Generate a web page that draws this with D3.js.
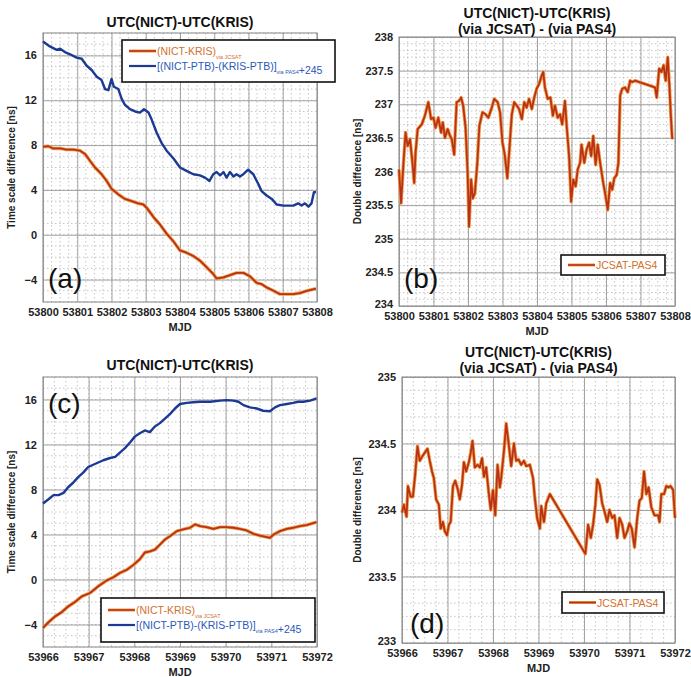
<!DOCTYPE html>
<html>
<head>
<meta charset="utf-8">
<script src="https://cdn.jsdelivr.net/npm/d3@7"></script>
<style>
  body { margin: 0; background: #fff; }
  svg { font-family: "Liberation Sans", Arial, sans-serif; }
</style>
</head>
<body>
<svg id="chart" width="691" height="677"></svg>
<script>
// Data (MJD, value)

// (a) MJD 53800-53808
const aNictKris = [
  [53800.00, 7.85], [53800.16, 7.9], [53800.30, 7.7], [53800.50, 7.7], [53800.69, 7.6],
  [53800.89, 7.6], [53801.08, 7.5], [53801.23, 7.2], [53801.37, 6.6], [53801.52, 6.0],
  [53801.71, 5.4], [53801.86, 4.8], [53802.00, 4.1], [53802.20, 3.6], [53802.39, 3.2],
  [53802.59, 3.0], [53802.78, 2.8], [53802.93, 2.7], [53803.03, 2.4], [53803.22, 1.6],
  [53803.42, 0.9], [53803.61, 0.1], [53803.81, -0.6], [53804.00, -1.4], [53804.19, -1.6],
  [53804.39, -1.9], [53804.58, -2.3], [53804.78, -2.9], [53804.97, -3.5], [53805.07, -3.9],
  [53805.27, -3.8], [53805.46, -3.6], [53805.65, -3.4], [53805.85, -3.4], [53806.04, -3.7],
  [53806.24, -4.3], [53806.38, -4.4], [53806.53, -4.7], [53806.73, -5.0], [53806.92, -5.3],
  [53807.11, -5.3], [53807.31, -5.3], [53807.50, -5.2], [53807.70, -5.0], [53807.97, -4.8]
];
const aPtb = [
  [53800.00, 17.24], [53800.20, 16.8], [53800.40, 16.5], [53800.50, 16.6], [53800.64, 16.3],
  [53800.79, 16.1], [53800.98, 15.8], [53801.13, 15.7], [53801.27, 15.1], [53801.42, 14.7],
  [53801.57, 14.1], [53801.71, 13.8], [53801.81, 13.0], [53801.91, 12.9], [53802.00, 13.9],
  [53802.07, 13.2], [53802.20, 13.0], [53802.30, 12.1], [53802.39, 11.6], [53802.54, 11.2],
  [53802.69, 11.0], [53802.83, 10.9], [53802.95, 11.2], [53803.08, 10.9], [53803.17, 10.3],
  [53803.32, 9.1], [53803.46, 8.2], [53803.61, 7.5], [53803.81, 6.8], [53804.00, 6.0],
  [53804.19, 5.7], [53804.39, 5.4], [53804.58, 5.3], [53804.73, 5.1], [53804.86, 4.8],
  [53804.97, 5.4], [53805.07, 5.6], [53805.17, 5.3], [53805.27, 5.6], [53805.36, 5.1],
  [53805.46, 5.6], [53805.56, 5.2], [53805.65, 5.4], [53805.75, 5.2], [53805.85, 5.4],
  [53805.99, 5.8], [53806.14, 5.4], [53806.29, 4.5], [53806.38, 3.9], [53806.53, 3.5],
  [53806.68, 3.2], [53806.82, 2.7], [53807.02, 2.6], [53807.31, 2.6], [53807.45, 2.8],
  [53807.55, 2.6], [53807.65, 2.8], [53807.75, 2.5], [53807.84, 2.8], [53807.91, 3.8],
  [53807.97, 3.8]
];

// (b) double difference, MJD 53800-53808
const bDouble = [
  [53800.00, 236.03], [53800.06, 235.53], [53800.13, 236.13], [53800.19, 236.58], [53800.25, 236.38],
  [53800.32, 236.48], [53800.39, 236.13], [53800.44, 235.83], [53800.48, 236.28], [53800.54, 236.63],
  [53800.66, 236.7], [53800.75, 236.83], [53800.85, 237.03], [53800.93, 236.78], [53801.00, 236.8],
  [53801.06, 236.65], [53801.14, 236.8], [53801.22, 236.58], [53801.27, 236.73], [53801.33, 236.5],
  [53801.41, 236.63], [53801.48, 236.53], [53801.53, 236.48], [53801.60, 236.25], [53801.67, 237.03],
  [53801.74, 237.05], [53801.80, 237.1], [53801.86, 236.98], [53801.93, 236.65], [53801.99, 235.98],
  [53802.03, 235.18], [53802.09, 235.88], [53802.14, 235.6], [53802.20, 235.68], [53802.27, 236.13],
  [53802.33, 236.68], [53802.42, 236.88], [53802.51, 236.85], [53802.59, 236.8], [53802.69, 236.95],
  [53802.76, 237.08], [53802.86, 237.03], [53802.93, 236.88], [53803.00, 236.43], [53803.07, 236.23],
  [53803.14, 235.9], [53803.20, 236.33], [53803.27, 236.85], [53803.34, 237.03], [53803.41, 236.98],
  [53803.48, 236.93], [53803.56, 236.78], [53803.63, 237.03], [53803.70, 236.95], [53803.77, 237.08],
  [53803.85, 236.93], [53803.92, 237.1], [53803.99, 237.23], [53804.06, 237.3], [53804.14, 237.43],
  [53804.18, 237.48], [53804.23, 237.25], [53804.31, 237.08], [53804.39, 237.1], [53804.46, 236.83],
  [53804.52, 236.98], [53804.60, 236.8], [53804.67, 236.85], [53804.73, 236.7], [53804.81, 237.05],
  [53804.86, 236.68], [53804.93, 236.23], [53804.99, 235.55], [53805.05, 235.88], [53805.12, 235.78],
  [53805.18, 236.03], [53805.25, 236.13], [53805.29, 236.4], [53805.37, 236.13], [53805.44, 236.33],
  [53805.51, 236.43], [53805.57, 236.23], [53805.63, 236.53], [53805.70, 236.1], [53805.76, 236.4],
  [53805.83, 236.13], [53805.92, 235.83], [53805.99, 235.63], [53806.05, 235.43], [53806.12, 235.83],
  [53806.18, 235.73], [53806.24, 235.9], [53806.31, 235.95], [53806.36, 236.13], [53806.41, 237.13],
  [53806.47, 237.23], [53806.55, 237.25], [53806.63, 237.18], [53806.70, 237.35], [53806.76, 237.33],
  [53806.84, 237.35], [53807.42, 237.25], [53807.47, 237.1], [53807.54, 237.53], [53807.61, 237.48],
  [53807.67, 237.58], [53807.73, 237.35], [53807.79, 237.7], [53807.84, 237.25], [53807.88, 236.83],
  [53807.92, 236.48]
];

// (c) MJD 53966-53972
const cNictKris = [
  [53966.00, -4.3], [53966.12, -3.8], [53966.26, -3.3], [53966.41, -2.9], [53966.55, -2.4],
  [53966.70, -2.0], [53966.85, -1.5], [53967.03, -1.2], [53967.21, -0.6], [53967.39, -0.1],
  [53967.54, 0.2], [53967.69, 0.6], [53967.83, 0.85], [53967.98, 1.3], [53968.12, 1.8],
  [53968.23, 2.4], [53968.34, 2.5], [53968.45, 2.65], [53968.56, 3.1], [53968.67, 3.55],
  [53968.78, 3.85], [53968.93, 4.3], [53969.07, 4.45], [53969.22, 4.6], [53969.33, 4.9],
  [53969.44, 4.75], [53969.58, 4.66], [53969.73, 4.5], [53969.88, 4.66], [53970.02, 4.66],
  [53970.17, 4.6], [53970.31, 4.5], [53970.46, 4.36], [53970.61, 4.06], [53970.75, 3.9],
  [53970.90, 3.76], [53970.97, 3.7], [53971.05, 4.0], [53971.19, 4.3], [53971.34, 4.5],
  [53971.48, 4.6], [53971.63, 4.75], [53971.77, 4.84], [53971.99, 5.1]
];
const cPtb = [
  [53966.00, 6.75], [53966.12, 7.13], [53966.23, 7.5], [53966.34, 7.5], [53966.45, 7.7],
  [53966.55, 8.2], [53966.66, 8.6], [53966.77, 9.1], [53966.88, 9.5], [53966.99, 10.0],
  [53967.10, 10.2], [53967.21, 10.4], [53967.32, 10.6], [53967.47, 10.8], [53967.58, 10.9],
  [53967.69, 11.3], [53967.80, 11.7], [53967.91, 12.2], [53968.01, 12.7], [53968.12, 13.0],
  [53968.23, 13.25], [53968.34, 13.1], [53968.45, 13.6], [53968.56, 13.9], [53968.67, 14.3],
  [53968.78, 14.7], [53968.89, 15.2], [53969.00, 15.6], [53969.15, 15.7], [53969.29, 15.76],
  [53969.44, 15.8], [53969.66, 15.8], [53969.88, 15.9], [53970.02, 15.94], [53970.17, 15.9],
  [53970.28, 15.8], [53970.39, 15.5], [53970.53, 15.3], [53970.68, 15.2], [53970.82, 15.0],
  [53970.97, 14.95], [53971.08, 15.3], [53971.19, 15.5], [53971.34, 15.6], [53971.48, 15.7],
  [53971.59, 15.8], [53971.70, 15.8], [53971.85, 15.9], [53971.99, 16.1]
];

// (d) double difference, MJD 53966-53972
const dDouble = [
  [53966.00, 233.98], [53966.04, 234.04], [53966.10, 233.95], [53966.13, 234.18], [53966.19, 234.1],
  [53966.24, 234.1], [53966.29, 234.27], [53966.34, 234.48], [53966.39, 234.37], [53966.44, 234.4],
  [53966.50, 234.43], [53966.56, 234.46], [53966.61, 234.37], [53966.66, 234.29], [53966.70, 234.24],
  [53966.75, 234.08], [53966.81, 234.04], [53966.85, 233.86], [53966.90, 233.91], [53966.94, 233.84],
  [53966.99, 233.81], [53967.03, 233.89], [53967.07, 233.91], [53967.12, 234.18], [53967.17, 234.22],
  [53967.23, 234.15], [53967.27, 234.08], [53967.32, 234.19], [53967.36, 234.36], [53967.41, 234.29],
  [53967.47, 234.36], [53967.51, 234.43], [53967.55, 234.52], [53967.60, 234.32], [53967.66, 234.34],
  [53967.71, 234.32], [53967.76, 234.39], [53967.80, 234.25], [53967.85, 234.32], [53967.90, 234.15],
  [53967.95, 234.0], [53968.00, 234.15], [53968.05, 233.96], [53968.10, 234.34], [53968.15, 234.17],
  [53968.18, 234.24], [53968.24, 234.44], [53968.29, 234.65], [53968.34, 234.51], [53968.40, 234.33],
  [53968.46, 234.5], [53968.51, 234.37], [53968.56, 234.38], [53968.62, 234.34], [53968.68, 234.37],
  [53968.73, 234.33], [53968.81, 234.34], [53968.88, 234.24], [53968.92, 234.09], [53968.97, 233.94],
  [53969.03, 233.86], [53969.06, 234.03], [53969.12, 233.91], [53969.17, 234.05], [53969.25, 234.12],
  [53970.03, 233.67], [53970.09, 233.89], [53970.15, 233.79], [53970.20, 233.89], [53970.25, 234.04],
  [53970.29, 234.23], [53970.34, 234.19], [53970.40, 234.05], [53970.45, 233.99], [53970.51, 233.91],
  [53970.56, 234.0], [53970.62, 233.94], [53970.67, 233.96], [53970.73, 233.79], [53970.78, 233.94],
  [53970.84, 233.89], [53970.89, 233.79], [53970.95, 233.84], [53971.00, 233.9], [53971.05, 233.86],
  [53971.11, 233.72], [53971.17, 233.94], [53971.22, 234.07], [53971.27, 234.09], [53971.32, 234.29],
  [53971.37, 234.12], [53971.42, 234.17], [53971.48, 234.02], [53971.55, 233.96], [53971.63, 233.96],
  [53971.66, 233.91], [53971.70, 234.12], [53971.76, 234.12], [53971.81, 234.18], [53971.86, 234.17],
  [53971.90, 234.18], [53971.96, 234.15], [53972.00, 233.94]
];

// Tick values
const mjdTicksAB = [53800, 53801, 53802, 53803, 53804, 53805, 53806, 53807, 53808];
const mjdTicksCD = [53966, 53967, 53968, 53969, 53970, 53971, 53972];
const timeTicks = [-4, 0, 4, 8, 12, 16];
const bTicks = [234, 234.5, 235, 235.5, 236, 236.5, 237, 237.5, 238];
const dTicks = [233, 233.5, 234, 234.5, 235];

const ORANGE = "#b8321a";
const ORANGE_GLOW = "#ef9a40";
const BLUE = "#1c3a94";
const svg = d3.select("#chart");

function drawPanel(p) {
  const x = d3.scaleLinear().domain(p.xDomain).range([p.left, p.right]);
  const y = d3.scaleLinear().domain(p.yDomain).range([p.bottom, p.top]);
  const g = svg.append("g");

  // minor grid (dotted)
  const xMinor = d3.range(p.xDomain[0], p.xDomain[1] + 1e-9, 0.25);
  const yMinor = d3.range(p.yDomain[0], p.yDomain[1] + 1e-9, p.yMinorStep);
  g.append("g").selectAll("line").data(xMinor).join("line")
    .attr("x1", d => x(d)).attr("x2", d => x(d))
    .attr("y1", p.top).attr("y2", p.bottom)
    .attr("stroke", "#b8b8b8").attr("stroke-width", 0.8).attr("stroke-dasharray", "1.5,2.5");
  g.append("g").selectAll("line").data(yMinor).join("line")
    .attr("x1", p.left).attr("x2", p.right)
    .attr("y1", d => y(d)).attr("y2", d => y(d))
    .attr("stroke", "#b8b8b8").attr("stroke-width", 0.8).attr("stroke-dasharray", "1.5,2.5");

  // major grid via axes
  g.append("g")
    .attr("transform", `translate(0,${p.bottom})`)
    .call(d3.axisBottom(x).tickValues(p.xTicks).tickSize(-(p.bottom - p.top)).tickPadding(6).tickFormat(d3.format("d")))
    .call(a => a.select(".domain").remove())
    .call(a => a.selectAll(".tick line").attr("stroke", "#9a9a9a").attr("stroke-width", 0.9))
    .call(a => a.selectAll("text").attr("font-size", 11).attr("font-weight", "bold").attr("fill", "#222")
      .attr("font-family", "Liberation Sans, Arial, sans-serif"));
  g.append("g")
    .attr("transform", `translate(${p.left},0)`)
    .call(d3.axisLeft(y).tickValues(p.yTicks).tickSize(-(p.right - p.left)).tickPadding(6).tickFormat(p.yFormat))
    .call(a => a.select(".domain").remove())
    .call(a => a.selectAll(".tick line").attr("stroke", "#9a9a9a").attr("stroke-width", 0.9))
    .call(a => a.selectAll("text").attr("font-size", 11).attr("font-weight", "bold").attr("fill", "#222")
      .attr("font-family", "Liberation Sans, Arial, sans-serif"))
    .call(a => a.selectAll(".tick").filter(d => d === p.yDomain[0]).select("text").attr("dy", "0.1em"));

  // frame
  g.append("rect")
    .attr("x", p.left).attr("y", p.top)
    .attr("width", p.right - p.left).attr("height", p.bottom - p.top)
    .attr("fill", "none").attr("stroke", "#8a8a8a").attr("stroke-width", 1);

  // series
  const line = d3.line().x(d => x(d[0])).y(d => y(d[1]));
  p.series.forEach(s => {
    if (s.glow) {
      g.append("path").datum(s.data).attr("d", line)
        .attr("fill", "none").attr("stroke", s.glow).attr("stroke-width", 3.4)
        .attr("stroke-linejoin", "round");
    }
    g.append("path").datum(s.data).attr("d", line)
      .attr("fill", "none").attr("stroke", s.color).attr("stroke-width", s.glow ? 1.8 : 2.4)
      .attr("stroke-linejoin", "round");
  });

  // titles
  p.title.forEach((t, i) => {
    svg.append("text")
      .attr("x", (p.left + p.right) / 2).attr("y", p.titleY + i * 16)
      .attr("text-anchor", "middle").attr("font-size", 14).attr("font-weight", "bold")
      .attr("fill", "#111").text(t);
  });

  // axis labels
  svg.append("text")
    .attr("x", (p.left + p.right) / 2).attr("y", p.bottom + 29)
    .attr("text-anchor", "middle").attr("font-size", 11).attr("font-weight", "bold")
    .attr("fill", "#222").text("MJD");
  svg.append("text")
    .attr("transform", `translate(${p.yLabelX},${(p.top + p.bottom) / 2}) rotate(-90)`)
    .attr("text-anchor", "middle").attr("font-size", 10).attr("font-weight", "bold")
    .attr("fill", "#222").text(p.yLabel);

  // panel letter
  svg.append("text")
    .attr("x", p.letter[1]).attr("y", p.letter[2])
    .attr("font-size", 28).attr("fill", "#111").text(p.letter[0]);

  // legend
  const L = p.legend;
  svg.append("rect")
    .attr("x", L.x).attr("y", L.y).attr("width", L.w).attr("height", L.h)
    .attr("fill", "#fff").attr("stroke", "#111").attr("stroke-width", 1.6);
  L.rows.forEach((r, i) => {
    const cy = L.y + L.firstRow + i * 15;
    if (r.glow) {
      svg.append("line").attr("x1", L.x + 7).attr("x2", L.x + 34).attr("y1", cy).attr("y2", cy)
        .attr("stroke", r.glow).attr("stroke-width", 3);
    }
    svg.append("line").attr("x1", L.x + 7).attr("x2", L.x + 34).attr("y1", cy).attr("y2", cy)
      .attr("stroke", r.color).attr("stroke-width", r.glow ? 1.6 : 2.2);
    const t = svg.append("text")
      .attr("x", L.x + 35).attr("y", cy + 4)
      .attr("font-size", 10.5).attr("fill", r.textColor);
    r.parts.forEach(part => {
      if (part.sub) {
        t.append("tspan").attr("font-size", 5.5).attr("dy", 4).text(part.sub);
        t.append("tspan").attr("dy", -4).text("");
      } else {
        t.append("tspan").text(part.text);
      }
    });
  });
}

const legendTwo = [
  { color: ORANGE, glow: ORANGE_GLOW, textColor: "#d2702e",
    parts: [{ text: "(NICT-KRIS)" }, { sub: "via JCSAT" }] },
  { color: BLUE, textColor: "#2a58b8",
    parts: [{ text: "[(NICT-PTB)-(KRIS-PTB)]" }, { sub: "via PAS4" }, { text: "+245" }] }
];
const legendOne = [
  { color: ORANGE, glow: ORANGE_GLOW, textColor: "#d2702e", parts: [{ text: "JCSAT-PAS4" }] }
];

drawPanel({
  left: 43, right: 317, top: 33, bottom: 302,
  xDomain: [53800, 53808], yDomain: [-6, 18], xTicks: mjdTicksAB, yTicks: timeTicks,
  yMinorStep: 1, yFormat: d3.format("d"),
  series: [{ data: aNictKris, color: ORANGE, glow: ORANGE_GLOW }, { data: aPtb, color: BLUE }],
  title: ["UTC(NICT)-UTC(KRIS)"], titleY: 27,
  yLabel: "Time scale difference [ns]", yLabelX: 15,
  letter: ["(a)", 48, 288],
  legend: { x: 122, y: 40, w: 213, h: 42, firstRow: 11, rows: legendTwo }
});

drawPanel({
  left: 399, right: 675, top: 37, bottom: 306,
  xDomain: [53800, 53808], yDomain: [234, 238], xTicks: mjdTicksAB, yTicks: bTicks,
  yMinorStep: 0.1, yFormat: d => String(d),
  series: [{ data: bDouble, color: ORANGE, glow: ORANGE_GLOW }],
  title: ["UTC(NICT)-UTC(KRIS)", "(via JCSAT) - (via PAS4)"], titleY: 18,
  yLabel: "Double difference [ns]", yLabelX: 361,
  letter: ["(b)", 404, 288],
  legend: { x: 561, y: 255, w: 104, h: 20, firstRow: 10, rows: legendOne }
});

drawPanel({
  left: 43, right: 317, top: 377, bottom: 647,
  xDomain: [53966, 53972], yDomain: [-6, 18], xTicks: mjdTicksCD, yTicks: timeTicks,
  yMinorStep: 1, yFormat: d3.format("d"),
  series: [{ data: cNictKris, color: ORANGE, glow: ORANGE_GLOW }, { data: cPtb, color: BLUE }],
  title: ["UTC(NICT)-UTC(KRIS)"], titleY: 370,
  yLabel: "Time scale difference [ns]", yLabelX: 15,
  letter: ["(c)", 48, 413],
  legend: { x: 101, y: 598, w: 214, h: 44, firstRow: 12, rows: legendTwo }
});

drawPanel({
  left: 402, right: 675, top: 377, bottom: 643,
  xDomain: [53966, 53972], yDomain: [233, 235], xTicks: mjdTicksCD, yTicks: dTicks,
  yMinorStep: 0.1, yFormat: d => String(d),
  series: [{ data: dDouble, color: ORANGE, glow: ORANGE_GLOW }],
  title: ["UTC(NICT)-UTC(KRIS)", "(via JCSAT) - (via PAS4)"], titleY: 357,
  yLabel: "Double difference [ns]", yLabelX: 361,
  letter: ["(d)", 410, 633],
  legend: { x: 562, y: 592, w: 102, h: 21, firstRow: 10.5, rows: legendOne }
});
</script>
</body>
</html>
